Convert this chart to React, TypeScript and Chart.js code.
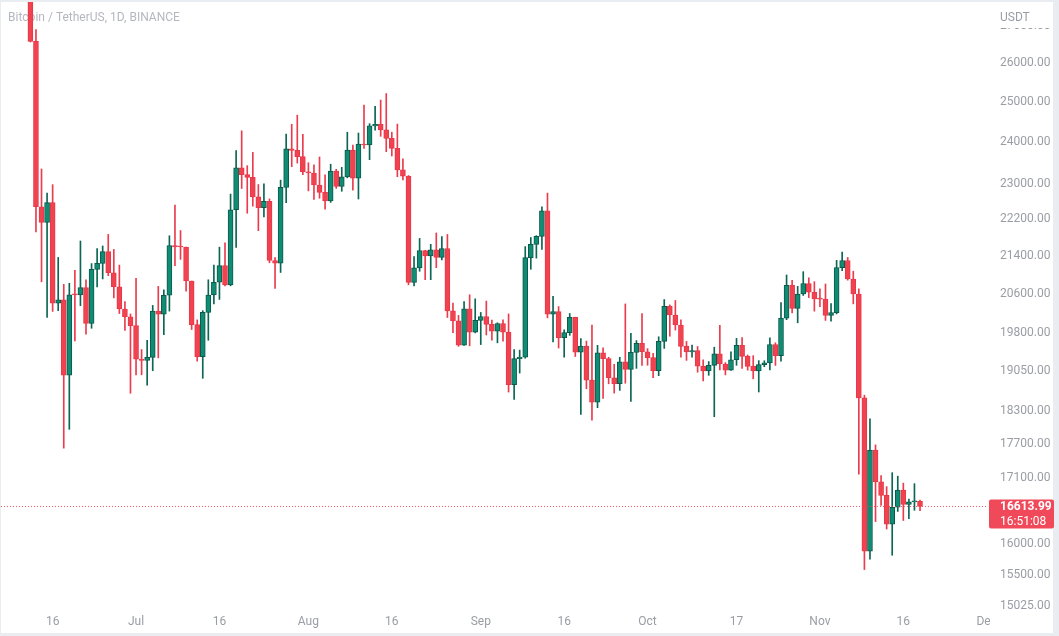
import React, { useEffect, useRef } from "react";
import { Chart, registerables } from "chart.js";

Chart.register(...registerables);

// Daily BTC/USDT candles, first candle = 2022-06-12, last = 2022-11-19 (index = day)
const startDate = "2022-06-12";
const opens = [
  28380, 26574, 22485, 22136, 22583, 20400, 20468, 18970, 20574, 20573, 20724, 19987, 21110, 21237, 21491, 21038, 20742, 20281, 20123,
  19942, 19279, 19252, 19315, 20236, 20175, 20564, 21624, 21594, 21592, 20862, 19963, 19329, 20212, 20570, 20836, 21190, 20780, 22420,
  23389, 23231, 23164, 22714, 22465, 22609, 21300, 21240, 22931, 23843, 23804, 23656,
  23296, 23268, 22987, 22818, 22622, 23313, 22954, 23175, 23810, 23149, 23954, 23934, 24403, 24441, 24305, 24094, 23855, 23342, 23191,
  20834, 21140, 21516, 21399, 21529, 21368, 21559, 20241, 20038, 19555, 20285, 19811,
  20050, 20127, 19969, 19832, 19986, 19812, 18790, 19290, 19319, 21361, 21649, 21826, 22396, 20174, 20227, 19701, 19804, 20113, 19417,
  19537, 18875, 18461, 19401, 19289, 18920, 18807, 19227, 19080, 19412, 19591,
  19423, 19310, 19057, 19629, 20337, 20158, 19956, 19531, 19418, 19446, 19141, 19052, 19157, 19382, 19185, 19068, 19268, 19550, 19334,
  19139, 19053, 19172, 19208, 19567, 19345, 20095, 20771, 20295, 20591, 20810, 20627,
  20490, 20483, 20151, 20207, 21148, 21300, 20905, 20591, 18541, 15880, 17586, 17034, 16800, 16320, 16600, 16890, 16650, 16690, 16700,
];
const highs = [
  28544, 26895, 23362, 22800, 22995, 21365, 20792, 20815, 21090, 21723, 20885, 21233, 21558, 21614, 21868, 21539, 21200, 20432, 20179,
  20918, 19467, 19647, 20354, 20750, 20675, 21838, 22527, 21954, 21592, 20862, 20059, 20247, 20888, 21200, 21588, 21685, 22777, 23800,
  24280, 23440, 23757, 22998, 23014, 22666, 21361, 23100, 24199, 24442, 24668, 24194,
  23510, 23459, 23647, 23223, 23475, 23354, 23400, 24245, 23933, 24226, 24918, 24456, 24888, 25047, 25211, 24247, 24446, 23600, 23208,
  21382, 21780, 21517, 21650, 21900, 21819, 21867, 20400, 20150, 20433, 20575, 20490,
  20210, 20444, 20055, 20000, 20058, 20180, 19464, 19456, 21600, 21800, 21840, 22488, 22799, 20541, 20330, 19860, 20189, 20113, 19686,
  19634, 19956, 19550, 19500, 19316, 19180, 19316, 20385, 19790, 19645, 20185,
  19486, 19395, 19719, 20475, 20365, 20456, 20062, 19627, 19556, 19527, 19267, 19232, 19513, 19951, 19212, 19424, 19688, 19706, 19360,
  19347, 19250, 19248, 19700, 19601, 20415, 20990, 20875, 20750, 21060, 20930, 20848,
  20700, 20800, 20393, 21302, 21480, 21365, 21070, 20700, 18590, 18150, 17680, 17140, 16950, 17190, 17130, 17010, 16740, 17000, 16720,
];
const lows = [
  26560, 21925, 20846, 20111, 20232, 20246, 17622, 17960, 19637, 20348, 19771, 19890, 20739, 20906, 20975, 20510, 20188, 19848, 18626,
  18975, 18977, 18781, 19055, 19304, 19761, 20238, 21189, 21323, 20652, 19865, 19240, 18910, 19651, 20383, 20478, 20761, 20762, 21581,
  22906, 22341, 22500, 21950, 22257, 21250, 20706, 21043, 22583, 23415, 23501, 23228,
  22850, 22655, 22681, 22435, 22586, 22909, 22842, 23154, 22865, 22664, 23852, 23583, 24296, 24145, 23773, 23671, 23180, 23108, 20783,
  20761, 21069, 20890, 20890, 21145, 21310, 20107, 19800, 19530, 19550, 19540, 19797,
  19565, 19755, 19652, 19600, 19633, 18649, 18510, 19010, 19297, 21111, 21350, 21538, 20100, 19617, 19497, 19320, 19748, 19330, 18232,
  18711, 18125, 18356, 18531, 18805, 18629, 18680, 18816, 18471, 19101, 19156,
  19160, 18920, 18959, 19490, 19731, 19854, 19320, 19255, 19316, 19026, 18860, 18967, 18190, 19069, 18975, 19063, 19160, 19100, 19066,
  18900, 18650, 19132, 19070, 19157, 19240, 20063, 20200, 20000, 20560, 20515, 20237,
  20330, 20048, 20031, 20180, 21080, 20880, 20386, 17166, 15588, 15754, 16361, 16630, 16240, 15815, 16530, 16380, 16410, 16550, 16545,
];
const closes = [
  26574, 22487, 22136, 22583, 20401, 20468, 18970, 20574, 20573, 20723, 19987, 21110, 21237, 21491, 21038, 20742, 20281, 20123, 19942,
  19279, 19252, 19315, 20236, 20175, 20564, 21624, 21594, 21591, 20862, 19963, 19329, 20212, 20570, 20836, 21190, 20779, 22420, 23389,
  23231, 23164, 22714, 22465, 22609, 21300, 21240, 22931, 23843, 23804, 23656, 23296,
  23268, 22987, 22818, 22622, 23313, 22954, 23175, 23810, 23149, 23954, 23934, 24403, 24441, 24305, 24094, 23855, 23342, 23191, 20834,
  21140, 21516, 21399, 21529, 21368, 21559, 20241, 20038, 19555, 20285, 19811, 20050,
  20127, 19969, 19832, 19986, 19812, 18790, 19290, 19319, 21361, 21649, 21826, 22396, 20174, 20227, 19701, 19804, 20113, 19417, 19537,
  18875, 18461, 19401, 19289, 18920, 18807, 19227, 19080, 19412, 19591, 19423,
  19310, 19056, 19629, 20337, 20158, 19956, 19531, 19418, 19446, 19141, 19052, 19157, 19382, 19185, 19068, 19268, 19550, 19334, 19139,
  19053, 19172, 19208, 19567, 19345, 20095, 20771, 20295, 20591, 20810, 20627, 20490,
  20483, 20151, 20207, 21148, 21300, 20905, 20591, 18541, 15880, 17586, 17034, 16800, 16320, 16600, 16890, 16650, 16690, 16700, 16613.99,
];

const xTickDays = [4, 19, 34, 50, 65, 81, 96, 111, 127, 142, 157, 172];
const xTickLabels = ["16", "Jul", "16", "Aug", "16", "Sep", "16", "Oct", "17", "Nov", "16", "Dec"];
const yTickValues = [15025, 15500, 16000, 17100, 17700, 18300, 19050, 19800, 20600, 21400, 22200, 23000, 24000, 25000, 26000, 27000];

const titleText = "Bitcoin / TetherUS, 1D, BINANCE";
const currencyText = "USDT";
const lastPrice = 16613.99;
const countdownText = "16:51:08";

const UP_FILL = "#0f8c73";
const UP_BORDER = "#0a5a4a";
const UP_WICK = "#0b6653";
const DOWN_FILL = "#f0424f";
const DOWN_BORDER = "#e8384a";
const DOWN_WICK = "#ea3c4d";
const AXIS_TEXT = "#9a9da5";
const FONT = "Roboto, 'Liberation Sans', sans-serif";

const isUp = (i: number) => closes[i] >= opens[i];

const overlayPlugin = {
  id: "overlay",
  beforeDraw(chart: any) {
    const ctx = chart.ctx;
    ctx.save();
    ctx.fillStyle = "#e9ecf1";
    ctx.fillRect(0, 0, chart.width, chart.height);
    ctx.fillStyle = "#ffffff";
    ctx.fillRect(1, 2, chart.width - 7, chart.height - 5);
    ctx.restore();
  },
  beforeDatasetsDraw(chart: any) {
    const ctx = chart.ctx;
    ctx.save();
    ctx.font = `12px ${FONT}`;
    ctx.fillStyle = "#b4b7bf";
    ctx.textAlign = "left";
    ctx.textBaseline = "middle";
    ctx.fillText(titleText, 8, 18);
    ctx.restore();
  },
  afterDraw(chart: any) {
    const ctx = chart.ctx;
    const area = chart.chartArea;
    const xs = chart.scales.x;
    const ys = chart.scales.y;

    // clipped last time label (Dec)
    ctx.save();
    ctx.beginPath();
    ctx.rect(area.left, area.bottom, 990 - area.left, chart.height - area.bottom);
    ctx.clip();
    ctx.font = `12px ${FONT}`;
    ctx.fillStyle = AXIS_TEXT;
    ctx.textAlign = "center";
    ctx.textBaseline = "middle";
    const last = xTickDays.length - 1;
    ctx.fillText(xTickLabels[last], xs.getPixelForValue(xTickDays[last]), 622);
    ctx.restore();

    // dotted last price line
    const py = Math.round(ys.getPixelForValue(lastPrice)) + 0.5;
    ctx.save();
    ctx.strokeStyle = "rgba(240,66,79,0.85)";
    ctx.lineWidth = 1;
    ctx.setLineDash([1, 2]);
    ctx.beginPath();
    ctx.moveTo(area.left, py);
    ctx.lineTo(area.right + 5, py);
    ctx.stroke();
    ctx.restore();

    // price label box
    ctx.save();
    const bx = 989, bw = 65, bh = 29;
    const by = py - 7;
    ctx.fillStyle = "#f04a5a";
    ctx.beginPath();
    ctx.roundRect(bx, by, bw, bh, 2);
    ctx.fill();
    ctx.fillStyle = "#ffffff";
    ctx.textAlign = "left";
    ctx.textBaseline = "middle";
    ctx.font = `bold 12px ${FONT}`;
    ctx.fillText(lastPrice.toFixed(2), 1000, by + 7);
    ctx.font = `12px ${FONT}`;
    ctx.fillText(countdownText, 1000, by + 22);
    ctx.restore();

    // currency header
    ctx.save();
    ctx.fillStyle = "#ffffff";
    ctx.fillRect(area.right + 1, 2, 69, 26);
    ctx.font = `12px ${FONT}`;
    ctx.fillStyle = AXIS_TEXT;
    ctx.textAlign = "left";
    ctx.textBaseline = "middle";
    ctx.fillText(currencyText, 1000, 18);
    ctx.restore();
  },
};

export default function App() {
  const canvasRef = useRef<HTMLCanvasElement | null>(null);

  useEffect(() => {
    const canvas = canvasRef.current;
    if (!canvas) return;
    const bodies = opens.map((o, i) => ({ x: i, y: [o, closes[i]] }));
    const wicks = lows.map((l, i) => ({ x: i, y: [l, highs[i]] }));

    const chart = new Chart(canvas, {
      type: "bar",
      data: {
        datasets: [
          {
            label: "body",
            data: bodies as any,
            order: 0,
            grouped: false,
            barThickness: 5,
            minBarLength: 1,
            borderWidth: 1,
            borderSkipped: false,
            backgroundColor: (c: any) => (isUp(c.dataIndex) ? UP_FILL : DOWN_FILL),
            borderColor: (c: any) => (isUp(c.dataIndex) ? UP_BORDER : DOWN_BORDER),
          } as any,
          {
            label: "wick",
            data: wicks as any,
            order: 1,
            grouped: false,
            barThickness: 1,
            borderWidth: 0,
            backgroundColor: (c: any) => (isUp(c.dataIndex) ? UP_WICK : DOWN_WICK),
          } as any,
        ],
      },
      options: {
        responsive: false,
        animation: false,
        events: [],
        layout: { padding: { top: 2, left: 1, right: 6, bottom: 0 } },
        plugins: { legend: { display: false }, tooltip: { enabled: false }, title: { display: false } },
        scales: {
          x: {
            type: "linear",
            min: -5.288,
            max: 171.33,
            offset: false,
            grid: { display: false, drawTicks: false },
            border: { display: false },
            ticks: {
              autoSkip: false,
              maxRotation: 0,
              padding: 5,
              color: AXIS_TEXT,
              font: { size: 12, family: FONT },
              callback: (v: any) => {
                const k = xTickDays.indexOf(Number(v));
                return k >= 0 ? xTickLabels[k] : "";
              },
            },
            afterBuildTicks: (s: any) => {
              s.ticks = xTickDays.filter((d) => d >= s.min && d <= s.max).map((d) => ({ value: d }));
            },
            afterFit: (s: any) => {
              s.height = 26;
            },
          } as any,
          y: {
            type: "logarithmic",
            position: "right",
            min: 14964,
            max: 27654,
            grid: { display: false, drawTicks: true, tickLength: 17 },
            border: { display: false },
            ticks: {
              padding: 0,
              color: AXIS_TEXT,
              font: { size: 12, family: FONT },
              callback: (v: any) => Number(v).toFixed(2),
            },
            afterBuildTicks: (s: any) => {
              s.ticks = yTickValues.map((v) => ({ value: v }));
            },
            afterFit: (s: any) => {
              s.width = 70;
              s.paddingTop = 0;
              s.paddingBottom = 0;
            },
          } as any,
        },
      },
      plugins: [overlayPlugin as any],
    });
    return () => chart.destroy();
  }, []);

  return (
    <div style={{ position: "absolute", left: 0, top: 0, width: 1059, height: 636 }}>
      <canvas ref={canvasRef} width={1059} height={636} style={{ display: "block" }} />
    </div>
  );
}
